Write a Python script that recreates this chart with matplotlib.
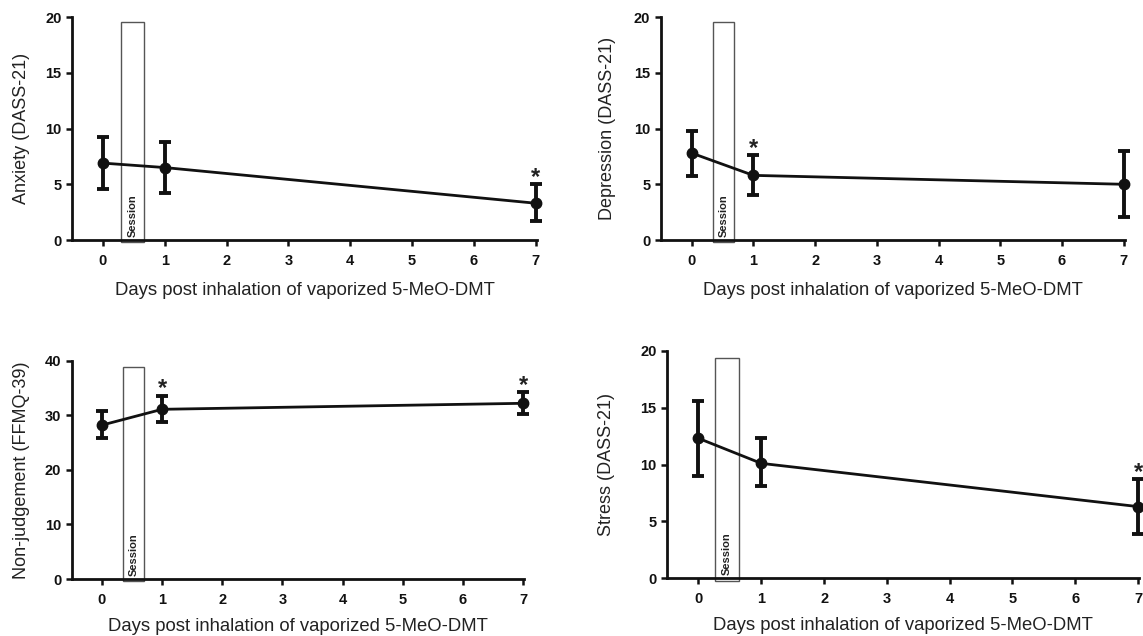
import matplotlib
matplotlib.use("Agg")
import matplotlib.pyplot as plt
from matplotlib.patches import Rectangle

plt.rcParams['font.family'] = ['Liberation Sans', 'DejaVu Sans']

# Data
days = [0, 1, 7]
xlabel = 'Days post inhalation of vaporized 5-MeO-DMT'

anxiety_mean = [6.9, 6.5, 3.3]
anxiety_low = [4.6, 4.2, 1.7]
anxiety_high = [9.2, 8.8, 5.0]
anxiety_star = [False, False, True]

depression_mean = [7.8, 5.8, 5.0]
depression_low = [5.7, 4.0, 2.1]
depression_high = [9.8, 7.6, 8.0]
depression_star = [False, True, False]

nonjudge_mean = [28.2, 31.1, 32.2]
nonjudge_low = [25.8, 28.8, 30.3]
nonjudge_high = [30.8, 33.5, 34.2]
nonjudge_star = [False, True, True]

stress_mean = [12.3, 10.1, 6.3]
stress_low = [9.0, 8.1, 3.9]
stress_high = [15.6, 12.3, 8.7]
stress_star = [False, False, True]

panels = [
    # (axes rect, ylabel, mean, low, high, star, ymax, ystep, session box (x0, x1, top), (ypad, xpad))
    ([0.063, 0.6226, 0.4068, 0.3506], 'Anxiety (DASS-21)', anxiety_mean, anxiety_low, anxiety_high,
     anxiety_star, 20, 5, (0.30, 0.66, 19.55), (11, 10.5)),
    ([0.5781, 0.6226, 0.4061, 0.3506], 'Depression (DASS-21)', depression_mean, depression_low, depression_high,
     depression_star, 20, 5, (0.34, 0.69, 19.55), (13, 10.5)),
    ([0.0628, 0.0896, 0.396, 0.3432], 'Non-judgement (FFMQ-39)', nonjudge_mean, nonjudge_low, nonjudge_high,
     nonjudge_star, 40, 10, (0.35, 0.70, 38.8), (11, 8)),
    ([0.5836, 0.0907, 0.4132, 0.3579], 'Stress (DASS-21)', stress_mean, stress_low, stress_high,
     stress_star, 20, 5, (0.27, 0.64, 19.4), (18, 7.5)),
]

fig = plt.figure(figsize=(11.43, 6.36), dpi=100)

for rect, ylab, mean, low, high, star, ymax, ystep, box, pads in panels:
    ax = fig.add_axes(rect)
    yerr = [[m - l for m, l in zip(mean, low)], [h - m for m, h in zip(mean, high)]]
    ax.errorbar(days, mean, yerr=yerr, color='#111111', lw=2, marker='o', markersize=7.5,
                elinewidth=2.8, capsize=4, capthick=2.8, zorder=3, clip_on=False)
    # session box
    bx0, bx1, btop = box
    ax.add_patch(Rectangle((bx0, -0.01 * ymax), bx1 - bx0, btop + 0.01 * ymax, fill=False,
                           edgecolor='#555555', lw=1.0, zorder=2, clip_on=False))
    ax.text((bx0 + bx1) / 2, 0.015 * ymax, 'Session', rotation=90, ha='center', va='bottom',
            fontsize=8, fontweight='bold', color='#222222')
    for x, h, s in zip(days, high, star):
        if s:
            ax.annotate('*', (x, h), xytext=(0, 0.5), textcoords='offset points', ha='center',
                        va='baseline', fontsize=17, fontweight='bold', color='#222222',
                        annotation_clip=False)
    ax.set_xlim(-0.5, 7.02)
    ax.set_ylim(0, ymax)
    ax.set_xticks(range(0, 8))
    ax.set_yticks(range(0, ymax + 1, ystep))
    for lab in ax.get_xticklabels() + ax.get_yticklabels():
        lab.set_fontweight('bold')
    ax.tick_params(axis='both', labelsize=10.5, width=1.8, length=4.5, direction='out',
                   colors='#111111', pad=3)
    ax.tick_params(axis='x', pad=5.5)
    ax.spines['top'].set_visible(False)
    ax.spines['right'].set_visible(False)
    ax.spines['left'].set_linewidth(2)
    ax.spines['bottom'].set_linewidth(2)
    ax.spines['left'].set_color('#111111')
    ax.spines['bottom'].set_color('#111111')
    ax.set_ylabel(ylab, fontsize=13, color='#222222', labelpad=pads[0])
    ax.set_xlabel(xlabel, fontsize=13.3, color='#222222', labelpad=pads[1])

fig.savefig('out.png', dpi=100)
